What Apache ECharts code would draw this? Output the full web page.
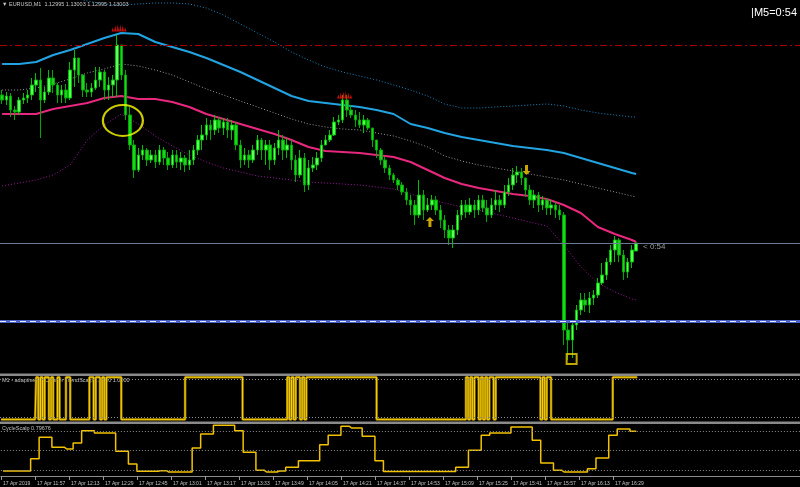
<!DOCTYPE html>
<html><head><meta charset="utf-8">
<script src="https://cdn.jsdelivr.net/npm/echarts@6/dist/echarts.min.js"></script>
<style>html,body{margin:0;padding:0;background:#000;}#c{width:800px;height:487px;}</style>
</head><body><div id="c"></div>
<script>
// ---- data ----
const BASE = 1.13000, PT = 0.00001;          // price = BASE + points*PT
const tickLabels = ['17 Apr 2019','17 Apr 11:57','17 Apr 12:13','17 Apr 12:29','17 Apr 12:45','17 Apr 13:01',
  '17 Apr 13:17','17 Apr 13:33','17 Apr 13:49','17 Apr 14:05','17 Apr 14:21','17 Apr 14:37','17 Apr 14:53',
  '17 Apr 15:09','17 Apr 15:25','17 Apr 15:41','17 Apr 15:57','17 Apr 16:13','17 Apr 16:29'];
// 2-minute bars from 11:41, [open, close, low, high] in points above 1.13000
const ohlcPts = [
[151,146,142,156],[146,150,141,154],[150,136,129,153],[136,134,126,140],[134,146,131,149],[146,148,142,153],[148,151,143,156],[151,161,146,168],[161,166,154,173],[166,146,108,178],
[146,154,143,159],[154,168,151,176],[168,161,153,176],[161,151,143,163],[151,156,143,161],[156,148,143,162],[148,176,146,184],[176,188,159,196],[188,171,163,188],[171,156,149,172],
[156,154,149,163],[154,158,149,163],[158,166,156,179],[166,174,159,179],[174,156,146,176],[156,161,146,169],[161,166,149,171],[166,201,149,211],[201,171,166,201],[171,131,126,176],
[131,101,96,139],[101,76,68,106],[76,91,74,98],[91,96,86,101],[96,86,80,98],[86,91,83,96],[91,84,78,96],[84,96,81,101],[96,88,81,99],[88,81,76,94],
[81,91,78,96],[91,84,78,96],[84,88,76,94],[88,81,74,91],[81,86,76,96],[86,96,81,101],[96,106,91,111],[106,111,96,121],[111,121,106,128],[121,116,106,126],
[116,126,111,131],[126,118,113,129],[118,124,111,128],[124,116,108,128],[116,121,106,126],[121,101,96,124],[101,86,78,106],[86,91,81,98],[91,86,78,96],[86,96,83,101],
[96,106,91,111],[106,96,86,108],[96,101,81,106],[101,86,76,106],[86,98,81,103],[98,106,91,116],[106,96,86,111],[96,101,88,108],[101,86,76,106],[86,71,64,91],
[71,88,68,96],[88,61,54,93],[61,78,56,86],[78,81,74,89],[81,88,76,94],[88,101,84,106],[101,106,101,111],[106,111,104,116],[111,124,110,129],[124,126,121,131],
[126,146,123,151],[146,136,129,151],[136,131,128,141],[131,126,119,136],[126,121,118,134],[121,126,113,131],[126,118,116,128],[118,106,99,118],[106,96,88,106],[96,86,81,98],
[86,78,73,89],[78,71,66,81],[71,66,63,73],[66,61,56,68],[61,54,51,64],[54,46,41,58],[46,41,31,51],[41,31,21,46],[31,51,28,66],[51,36,26,56],
[36,41,34,48],[41,46,36,51],[46,36,31,50],[36,26,18,41],[26,16,8,31],[16,8,1,21],[8,16,-2,21],[16,31,11,36],[31,41,26,46],[41,34,28,46],
[34,41,31,48],[41,36,28,46],[36,46,31,51],[46,38,34,51],[38,31,24,46],[31,41,28,48],[41,46,36,56],[46,41,34,51],[41,54,38,61],[54,61,50,68],
[61,71,56,78],[71,74,63,80],[74,68,61,78],[68,56,49,68],[56,46,41,61],[46,51,38,56],[51,41,34,54],[41,46,36,50],[46,38,31,48],[38,41,31,46],
[41,36,28,44],[36,31,26,41],[31,-84,-99,34],[-84,-94,-114,-74],[-94,-79,-112,-74],[-79,-64,-84,-59],[-64,-54,-69,-47],[-54,-59,-66,-47],[-59,-52,-67,-46],[-52,-49,-59,-44],
[-49,-37,-52,-32],[-37,-29,-39,-17],[-29,-16,-34,-12],[-16,-4,-19,1],[-4,6,-16,10],[6,-9,-16,8],[-9,-26,-34,-4],[-26,-16,-32,-12],[-16,-4,-22,1],[-5,3,-5,3]];
// band indicator lines sampled every 4 bars (last at bar 149), points above 1.13000
const bandTeal   = [266,261,256,252,249,245,242,241,242,243,243,242,238,231,222,213,204,194,186,179,174,170,166,161,156,150,142,138,138,139,140,141,142,140,136,133,131,129,129];
const bandBlue   = [182,182,184,191,196,202,208,213,212,204,199,194,188,181,174,166,158,150,145,143,141,139,136,132,122,118,113,109,106,103,100,98,96,93,88,83,78,73,72];
const bandGray   = [156,156,158,162,167,173,177,182,180,176,171,164,157,151,145,139,133,127,122,119,117,116,113,110,105,99,90,85,81,78,75,72,69,66,62,58,54,50,49];
const bandPink   = [132,132,132,137,140,143,148,150,147,147,144,139,132,127,122,117,112,106,99,95,94,93,91,89,84,76,68,62,58,55,52,50,47,41,33,19,12,6,4];
const bandPurple = [60,63,66,71,81,106,121,132,122,110,100,91,84,78,74,70,68,66,64,63,62,61,59,57,52,47,43,39,36,32,28,24,20,1,-21,-37,-46,-53,-54];
// horizontal levels (points above 1.13000)
const levelRed = 201, levelBid = 3, levelBlue = -75;
// annotations: [bar index, points]
const redMarks = [[27,218],[80,151]];
const upArrows = [[101,24]];
const downArrows = [[123,76]];
const circleMark = [[28,125.5]];
const squareMark = [[134,-113]];
// adaptive TF TrendScalp, 1-minute values from 11:41
const trendScalp = [
0,0,0,0,0,0,0,0,0,0, 0,0,0,0,0,0,0,1,0,1, 0,1,1,0,1,0,0,1,0,0, 0,1,1,0,0,0,0,0,0,0, 0,0,1,1,0,1,1,0,1,0,
1,1,1,1,1,1,1,0,0,0, 0,0,0,0,0,0,0,0,0,0, 0,0,0,0,0,0,0,0,0,0, 0,0,0,0,0,0,0,1,1,1, 1,1,1,1,1,1,1,1,1,1,
1,1,1,1,1,1,1,1,1,1, 1,1,1,1,0,0,0,0,0,0, 0,0,0,0,0,0,0,0,0,0, 0,0,0,0,0,1,0,1,0,1, 1,0,1,0,1,1,1,1,1,1,
1,1,1,1,1,1,1,1,1,1, 1,1,1,1,1,1,1,1,1,1, 1,1,1,1,1,1,1,0,0,0, 0,0,0,0,0,0,0,0,0,0, 0,0,0,0,0,0,0,0,0,0,
0,0,0,0,0,0,0,0,0,0, 0,0,0,0,0,0,0,0,0,1, 0,1,0,1,1,0,1,0,1,0, 1,1,0,1,1,1,1,1,1,1, 1,1,1,1,1,1,1,1,1,1,
1,1,1,1,0,1,0,1,1,0, 0,0,0,0,0,0,0,0,0,0, 0,0,0,0,0,0,0,0,0,0, 0,0,0,0,0,0,0,0,1,1, 1,1,1,1,1,1,1,1,1,1];
const trendLevels = [0.05, 0.95];
// CycleScalp, 2-minute values
const cycleScalp = [
.185,.185,.185,.185,.185,.185,.185,.374,.374,.703, .703,.703,.549,.549,.549,.523,.523,.615,.615,.805,
.805,.805,.769,.769,.769,.769,.769,.488,.488,.488, .292,.292,.18,.18,.18,.18,.18,.19,.19,.169,
.169,.169,.169,.169,.169,.538,.538,.754,.754,.754, .888,.888,.888,.888,.888,.805,.805,.472,.472,.472,
.195,.195,.169,.169,.169,.185,.185,.242,.242,.242, .343,.343,.343,.343,.343,.589,.589,.734,.734,.734,
.872,.872,.846,.846,.846,.718,.718,.718,.343,.343, .177,.177,.177,.177,.177,.177,.177,.177,.177,.177,
.177,.177,.177,.177,.177,.177,.177,.242,.242,.242, .503,.503,.503,.734,.734,.769,.769,.769,.769,.769,
.862,.862,.862,.862,.862,.657,.657,.308,.308,.308, .195,.195,.169,.169,.169,.169,.169,.169,.22,.22,
.385,.385,.385,.734,.734,.831,.831,.831,.797,.797];
const cycleLevels = [0.2, 0.5, 0.8];

// ---- build ----
const toPrice = v => +(BASE + v * PT).toFixed(6);
function timeCats(n, step) {
  const out = []; let t = 11 * 60 + 41;
  for (let i = 0; i < n; i++) { out.push('17 Apr ' + Math.floor(t / 60) + ':' + String(t % 60).padStart(2, '0')); t += step; }
  return out;
}
const cats2 = timeCats(188, 2), cats1 = timeCats(376, 1);
const bandBars = bandBlue.map((_, k) => Math.min(4 * k, ohlcPts.length - 1));
const FONT = '"Liberation Sans", Arial, sans-serif';

function band(pts, color, type, width, extra) {
  return Object.assign({ type: 'line', xAxisIndex: 0, yAxisIndex: 0, silent: true, symbol: 'none', z: 3,
    data: pts.map((v, k) => [bandBars[k], toPrice(v)]), lineStyle: { color, type, width } }, extra || {});
}
function marks(list, symbol, size, style, offset) {
  return { type: 'scatter', xAxisIndex: 0, yAxisIndex: 0, silent: true, z: 6, symbol, symbolSize: size,
    symbolOffset: offset || [0, 0], itemStyle: style, data: list.map(d => [d[0], toPrice(d[1])]) };
}
const dotted = { color: '#8c8c8c', type: [1, 2], width: 1 };
const levelLines = { markLine: { silent: true, precision: 6, symbol: ['none', 'none'], label: { show: false }, animation: false,
  data: [
    { yAxis: toPrice(levelRed), lineStyle: { color: '#a80000', type: [7, 3, 2, 3], width: 1 } },
    { yAxis: toPrice(levelBid), lineStyle: { color: '#6a7890', type: 'solid', width: 1 } },
    { yAxis: toPrice(levelBlue), lineStyle: { color: '#4a62c8', type: 'solid', width: 3 } }
  ] } };
const levelDash = { markLine: { silent: true, precision: 6, symbol: ['none', 'none'], label: { show: false }, animation: false,
  data: [ { yAxis: toPrice(levelBlue), lineStyle: { color: '#e8ecff', type: [6, 4], width: 1 } } ] } };

const option = {
  animation: false, backgroundColor: '#000',
  grid: [
    { left: 0, right: 0, top: 0, height: 373 },
    { left: 0, right: 0, top: 376, height: 45.5 },
    { left: 0, right: 0, top: 424, height: 52 }
  ],
  xAxis: [
    { type: 'category', gridIndex: 0, data: cats2, show: false },
    { type: 'category', gridIndex: 1, data: cats1, show: false },
    { type: 'category', gridIndex: 2, data: cats2,
      axisLine: { show: true, lineStyle: { color: '#8c8c8c', width: 1 } },
      axisTick: { show: true, length: 4, lineStyle: { color: '#9a9a9a' },
        interval: (i) => i % 8 === 0 && i / 8 < tickLabels.length },
      axisLabel: { show: true, color: '#c4c4c4', fontSize: 5, fontFamily: FONT, align: 'left', margin: 5,
        interval: (i) => i % 8 === 0 && i / 8 < tickLabels.length,
        formatter: (v, i) => tickLabels[i / 8] || '' },
      splitLine: { show: false } }
  ],
  yAxis: [
    { type: 'value', gridIndex: 0, min: toPrice(-127), max: toPrice(246), show: false, splitLine: { show: false } },
    { type: 'value', gridIndex: 1, min: -0.05, max: 1.03, show: false, splitLine: { show: false } },
    { type: 'value', gridIndex: 2, min: 0.108, max: 0.908, show: false, splitLine: { show: false } }
  ],
  series: [
    band(bandTeal, '#1f88bf', [1, 2], 1, levelLines),
    band(bandGray, '#9a9a9a', [1, 2], 1, levelDash),
    band(bandPurple, '#9a1c9a', [1, 2], 1),
    band(bandBlue, '#22a4e2', 'solid', 2),
    band(bandPink, '#e8287e', 'solid', 2),
    { type: 'candlestick', name: 'EURUSD,M1', xAxisIndex: 0, yAxisIndex: 0, barWidth: 3, z: 4, silent: true,
      data: ohlcPts.map(r => r.map(toPrice)),
      itemStyle: { color: '#5cff5c', color0: '#1fd21f', borderColor: '#00c000', borderColor0: '#00a800', borderWidth: 1 } },
    marks(redMarks, 'path://M0,7 L1,3 L2,7 L3,1 L4,7 L5,0 L6,7 L7,0 L8,7 L9,1 L10,7 L11,3 L12,7 Z', [15, 7], { color: '#ff1010' }, [2, 0]),
    marks(upArrows, 'path://M4,0 L8,4 L5.5,4 L5.5,10 L2.5,10 L2.5,4 L0,4 Z', [8, 10], { color: '#ffd000' }, [-2, 0]),
    marks(downArrows, 'path://M2.5,0 L5.5,0 L5.5,6 L8,6 L4,10 L0,6 L2.5,6 Z', [8, 10], { color: '#ffd000' }, [1, 0]),
    marks(circleMark, 'circle', [40, 31], { color: 'rgba(0,0,0,0)', borderColor: '#ffff00', borderWidth: 2 }, [1.6, 0]),
    marks(squareMark, 'rect', [10, 10], { color: 'rgba(0,0,0,0)', borderColor: '#f0d000', borderWidth: 2 }, [-0.7, 0]),
    { type: 'line', xAxisIndex: 1, yAxisIndex: 1, step: 'middle', symbol: 'none', silent: true, z: 3,
      data: trendScalp, lineStyle: { color: '#9a7c00', width: 2.5 },
      markLine: { silent: true, symbol: ['none', 'none'], label: { show: false }, lineStyle: dotted,
        data: trendLevels.map(v => ({ yAxis: v })) } },
    { type: 'line', xAxisIndex: 1, yAxisIndex: 1, step: 'middle', symbol: 'none', silent: true, z: 4,
      data: trendScalp, lineStyle: { color: '#ffd400', width: 1 } },
    { type: 'line', xAxisIndex: 2, yAxisIndex: 2, step: 'middle', symbol: 'none', silent: true, z: 4,
      data: cycleScalp, lineStyle: { color: '#f2c200', width: 1.5 },
      markLine: { silent: true, precision: 4, symbol: ['none', 'none'], label: { show: false }, lineStyle: dotted,
        data: cycleLevels.map(v => ({ yAxis: v })) } }
  ],
  graphic: [
    { type: 'rect', shape: { x: 0, y: 373.5, width: 800, height: 2.5 }, style: { fill: '#8a8a8a' }, silent: true },
    { type: 'rect', shape: { x: 0, y: 421.5, width: 800, height: 2.5 }, style: { fill: '#8a8a8a' }, silent: true },
    { type: 'text', x: 2, y: 4, silent: true, style: { text: '▼ EURUSD,M1  1.12995 1.13003 1.12995 1.13003',
        fill: '#c8c8c8', font: '5.5px ' + FONT, textVerticalAlign: 'middle' } },
    { type: 'text', x: 797, y: 13, silent: true, style: { text: '|M5=0:54', fill: '#ffffff',
        font: '11px ' + FONT, textAlign: 'right', textVerticalAlign: 'middle' } },
    { type: 'text', x: 643, y: 247, silent: true, style: { text: '< 0:54', fill: '#9c9c9c',
        font: '8px ' + FONT, textVerticalAlign: 'middle' } },
    { type: 'text', x: 2, y: 380, silent: true, style: { text: 'M1 - adaptive TF Charter TrendScalp 1.0000 1.0000',
        fill: '#c0c0c0', font: '5.5px ' + FONT, textVerticalAlign: 'middle' } },
    { type: 'text', x: 2, y: 428, silent: true, style: { text: 'CycleScalp 0.79676',
        fill: '#c0c0c0', font: '5.5px ' + FONT, textVerticalAlign: 'middle' } }
  ]
};
const chart = echarts.init(document.getElementById('c'), null, { renderer: 'canvas' });
chart.setOption(option);
</script></body></html>
